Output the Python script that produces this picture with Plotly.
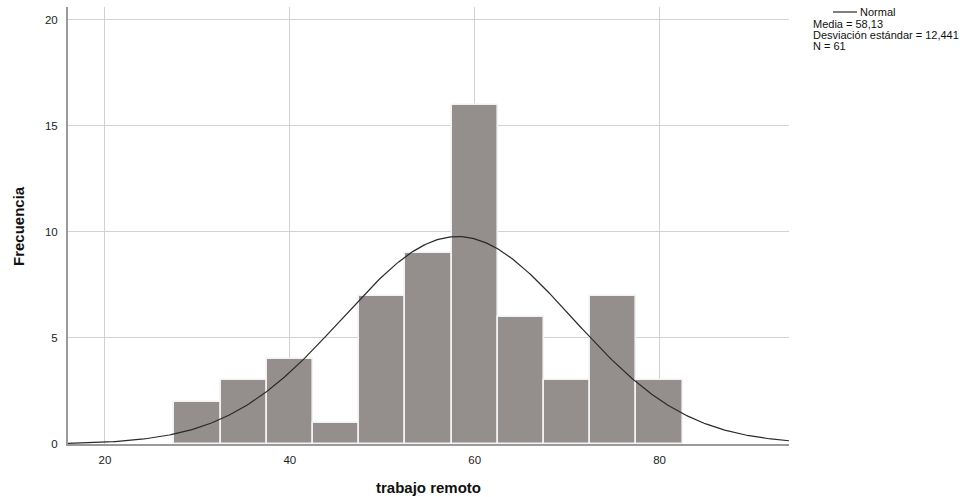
import numpy as np
import plotly.graph_objects as go

bin_starts = [27.5, 32.5, 37.5, 42.5, 47.5, 52.5, 57.5, 62.5, 67.5, 72.5, 77.5]
counts = [2, 3, 4, 1, 7, 9, 16, 6, 3, 7, 3]
bin_width = 5
mean = 58.13
sd = 12.441
n = 61
x_ticks = [20, 40, 60, 80]
y_ticks = [0, 5, 10, 15, 20]
legend_lines = ["Media = 58,13", "Desviación estándar = 12,441", f"N = {n}"]

centers = [s + bin_width / 2 for s in bin_starts]
xs = np.linspace(16, 94, 400)
ys = n * bin_width / (sd * np.sqrt(2 * np.pi)) * np.exp(-0.5 * ((xs - mean) / sd) ** 2)

fig = go.Figure()
fig.add_trace(go.Bar(x=centers, y=counts, width=bin_width,
                     marker=dict(color="#948f8d", line=dict(color="#f2f2f2", width=1.6)),
                     showlegend=False))
fig.add_trace(go.Scatter(x=xs, y=ys, mode="lines", line=dict(color="#2a2a2a", width=1.2),
                         showlegend=False))

font = "Liberation Sans, Arial, sans-serif"
L, R, T, B = 68, 789, 7, 444
W, H = R - L, B - T
fig.update_layout(
    width=979, height=497,
    margin=dict(l=L, r=979 - R, t=T, b=497 - B, autoexpand=False),
    plot_bgcolor="white", paper_bgcolor="white",
    font=dict(family=font, size=11.5, color="#222"),
    bargap=0,
    xaxis=dict(range=[16, 94], tickvals=x_ticks, showgrid=True, gridcolor="#d2d2d2",
               zeroline=False, showline=True, linecolor="#9a9a9a", linewidth=2,
               ticks="", automargin=False, ticklabelstandoff=4),
    yaxis=dict(range=[0, 20.6], tickvals=y_ticks, showgrid=True, gridcolor="#d2d2d2",
               zeroline=False, showline=True, linecolor="#9a9a9a", linewidth=2,
               ticks="", automargin=False, ticklabelstandoff=6),
)
def px(x):
    return (x - L) / W
def py(y):
    return (B - y) / H

fig.add_annotation(xref="paper", yref="paper", x=px(428), y=py(487), text="<b>trabajo remoto</b>",
                   showarrow=False, font=dict(size=15, color="#111"), xanchor="center", yanchor="middle")
fig.add_annotation(xref="paper", yref="paper", x=px(18), y=py(226), text="<b>Frecuencia</b>",
                   showarrow=False, font=dict(size=15, color="#111"), textangle=-90,
                   xanchor="center", yanchor="middle")
fig.add_shape(type="line", xref="paper", yref="paper", x0=px(833), x1=px(857),
              y0=py(12), y1=py(12), line=dict(color="#2a2a2a", width=1.2))
fig.add_annotation(xref="paper", yref="paper", x=px(858), y=py(12), xanchor="left",
                   yanchor="middle", text="Normal", showarrow=False, font=dict(size=11, color="#111"))
for i, t in enumerate(legend_lines):
    fig.add_annotation(xref="paper", yref="paper", x=px(811), y=py(24 + 11 * i), xanchor="left",
                       yanchor="middle", showarrow=False, font=dict(size=11, color="#111"), text=t)
fig.write_html("out.html", config={"displayModeBar": False},
               post_script="document.body.style.margin='0';document.body.style.overflow='hidden';")
